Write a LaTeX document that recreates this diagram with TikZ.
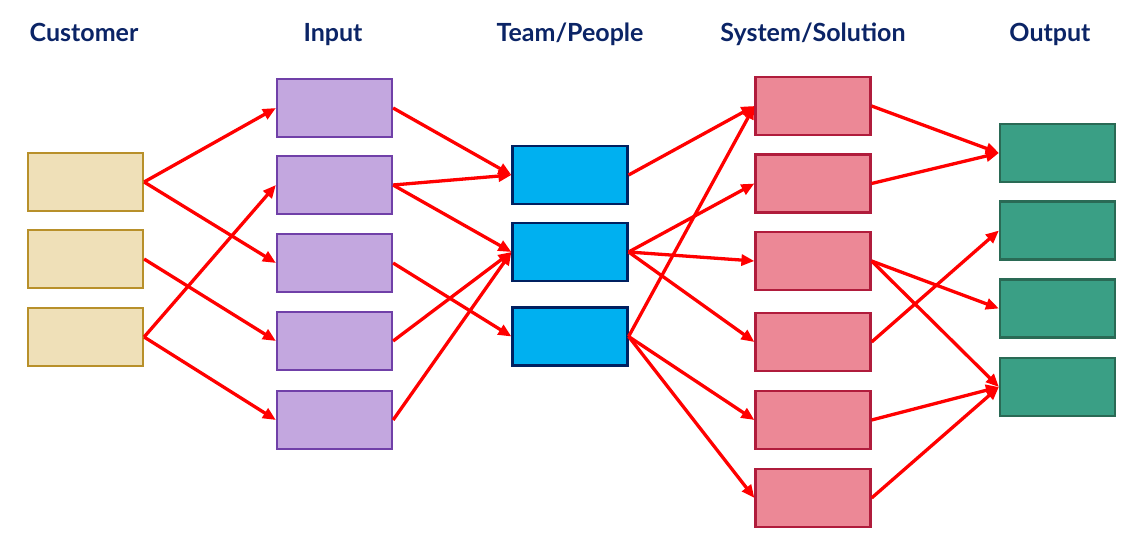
\documentclass[tikz,border=0pt]{standalone}
\usepackage{fontspec}
\setmainfont{Lato}
\usetikzlibrary{arrows.meta}

\definecolor{headblue}{HTML}{0B2466}
\definecolor{custfill}{HTML}{EFE0B8}
\definecolor{custline}{HTML}{B8902A}
\definecolor{infill}{HTML}{C3A7DF}
\definecolor{inline}{HTML}{7040A8}
\definecolor{teamfill}{HTML}{00B0F0}
\definecolor{teamline}{HTML}{002060}
\definecolor{sysfill}{HTML}{EC8896}
\definecolor{sysline}{HTML}{B01C3C}
\definecolor{outfill}{HTML}{3A9F85}
\definecolor{outline}{HTML}{2A6A55}

\begin{document}
\begin{tikzpicture}[x=1pt,y=-1pt,
        box/.style={rectangle,line width=2.2pt,minimum width=115pt,minimum height=58pt,inner sep=0pt},
        cust/.style={box,fill=custfill,draw=custline},
        inp/.style={box,fill=infill,draw=inline},
        team/.style={box,fill=teamfill,draw=teamline},
        sys/.style={box,fill=sysfill,draw=sysline},
        outp/.style={box,fill=outfill,draw=outline},
        head/.style={anchor=base,text=headblue,font=\fontsize{25}{30}\selectfont\bfseries},
        link/.style={red,line width=3.3pt,-{Triangle[length=13pt,width=11pt]}}]
        \useasboundingbox (0,0) rectangle (1144,553);
        % headings
        \node[head](hcust)at(84,42){Customer};
        \node[head](hinp)at(333,42){Input};
        \node[head](hteam)at(570,42){Team/People};
        \node[head](hsys)at(813,42){System/Solution};
        \node[head](hout)at(1050,42){Output};
        % customer
        \node[cust](c1)at(85.5,182){};
        \node[cust](c2)at(85.5,259){};
        \node[cust](c3)at(85.5,337){};
        % input
        \node[inp](i1)at(334.5,108){};
        \node[inp](i2)at(334.5,185){};
        \node[inp](i3)at(334.5,263){};
        \node[inp](i4)at(334.5,341){};
        \node[inp](i5)at(334.5,420){};
        % team/people
        \node[team](t1)at(570,175){};
        \node[team](t2)at(570,252){};
        \node[team](t3)at(570,336.5){};
        % system/solution
        \node[sys](s1)at(813,106){};
        \node[sys](s2)at(813,183.5){};
        \node[sys](s3)at(813,261){};
        \node[sys](s4)at(813,342){};
        \node[sys](s5)at(813,420){};
        \node[sys](s6)at(813,498){};
        % output
        \node[outp](o1)at(1057.5,153){};
        \node[outp](o2)at(1057.5,230.5){};
        \node[outp](o3)at(1057.5,308.5){};
        \node[outp](o4)at(1057.5,387){};
        % customer -> input
        \draw[link] (c1.east) -- (i1.west);
        \draw[link] (c1.east) -- (i3.west);
        \draw[link] (c2.east) -- (i4.west);
        \draw[link] (c3.east) -- (i2.west);
        \draw[link] (c3.east) -- (i5.west);
        % input -> team
        \draw[link] (i1.east) -- (t1.west);
        \draw[link] (i2.east) -- (t1.west);
        \draw[link] (i2.east) -- (t2.west);
        \draw[link] (i3.east) -- (t3.west);
        \draw[link] (i4.east) -- (t2.west);
        \draw[link] (i5.east) -- (t2.west);
        % team -> system
        \draw[link] (t1.east) -- (s1.west);
        \draw[link] (t2.east) -- (s2.west);
        \draw[link] (t2.east) -- (s3.west);
        \draw[link] (t2.east) -- (s4.west);
        \draw[link] (t3.east) -- (s1.west);
        \draw[link] (t3.east) -- (s5.west);
        \draw[link] (t3.east) -- (s6.west);
        % system -> output
        \draw[link] (s1.east) -- (o1.west);
        \draw[link] (s2.east) -- (o1.west);
        \draw[link] (s3.east) -- (o3.west);
        \draw[link] (s3.east) -- (o4.west);
        \draw[link] (s4.east) -- (o2.west);
        \draw[link] (s5.east) -- (o4.west);
        \draw[link] (s6.east) -- (o4.west);
    \end{tikzpicture}
\end{document}
